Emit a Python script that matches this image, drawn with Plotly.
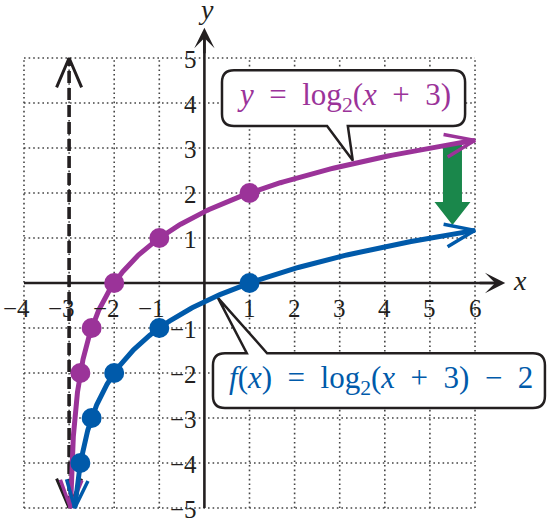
import numpy as np
import plotly.graph_objects as go

# ---------------- data ----------------
X_TICKS = [-4, -3, -2, -1, 1, 2, 3, 4, 5, 6]
Y_TICKS = [-5, -4, -3, -2, -1, 1, 2, 3, 4, 5]
GRID_X = list(range(-4, 7))
GRID_Y = list(range(-5, 6))

PARENT_X = [-2.75, -2.5, -2, -1, 1]
PARENT_Y = [-2, -1, 0, 1, 2]
SHIFTED_X = [-2.75, -2.5, -2, -1, 1]
SHIFTED_Y = [-4, -3, -2, -1, 0]

H_SHIFT = 3          # y = log2(x + 3)
V_SHIFT = -2         # f(x) = log2(x + 3) - 2
ASYMPTOTE_X = -3
CURVE_X_MAX = 6
CURVE_Y_MIN = -5
SHIFT_ARROW_X = 5.5

SP = "\u2002"
PARENT_LABEL = f"<i>y</i>{SP}={SP}log<sub>2</sub>(<i>x</i>{SP}+{SP}3)"
SHIFTED_LABEL = f"<i>f</i>(<i>x</i>){SP}={SP}log<sub>2</sub>(<i>x</i>{SP}+{SP}3){SP}−{SP}2"

# ---------------- style ----------------
W, H = 547, 519
XR = [-4.532, 7.596]
YR = [-5.244, 6.289]
SX = W / (XR[1] - XR[0])
SY = H / (YR[1] - YR[0])

PURPLE = "#9B3399"
BLUE = "#005AAA"
GREEN = "#1A874B"
BLACK = "#231F20"
SERIF = "Liberation Serif"


def f_parent(x):
    return np.log2(np.asarray(x, dtype=float) + H_SHIFT)


def open_head(tip, prev, color, length=30, angle=22, width=3.5):
    """Open V arrowhead at tip, direction from prev to tip (pixel-corrected)."""
    dx = (tip[0] - prev[0]) * SX
    dy = (tip[1] - prev[1]) * SY
    n = np.hypot(dx, dy)
    ux, uy = dx / n, dy / n
    pts_x, pts_y = [], []
    for s in (1, -1):
        a = np.radians(angle) * s
        bx = -(ux * np.cos(a) - uy * np.sin(a))
        by = -(ux * np.sin(a) + uy * np.cos(a))
        pts_x.append(tip[0] + bx * length / SX)
        pts_y.append(tip[1] + by * length / SY)
    return go.Scatter(x=[pts_x[0], tip[0], pts_x[1]], y=[pts_y[0], tip[1], pts_y[1]],
                      mode="lines", line=dict(color=color, width=width),
                      hoverinfo="skip", showlegend=False)


fig = go.Figure()

# grid
shapes = []
grid_line = dict(color="#444444", width=1.6, dash="1.6px,3px")
for gx in GRID_X:
    if gx == 0:
        continue
    shapes.append(dict(type="line", x0=gx, x1=gx, y0=GRID_Y[0], y1=GRID_Y[-1],
                       line=grid_line, layer="below"))
for gy in GRID_Y:
    if gy == 0:
        continue
    shapes.append(dict(type="line", x0=GRID_X[0], x1=GRID_X[-1], y0=gy, y1=gy,
                       line=grid_line, layer="below"))


def rounded_box(x1, x2, yb, yt, tail, r=12):
    rx, ry = r / SX, r / SY
    (b1, b2, tx, ty, side) = tail
    p = f"M{x1+rx},{yt} "
    if side == "top":
        p += f"L{b1},{yt} L{tx},{ty} L{b2},{yt} "
    p += f"L{x2-rx},{yt} Q{x2},{yt} {x2},{yt-ry} L{x2},{yb+ry} Q{x2},{yb} {x2-rx},{yb} "
    if side == "bottom":
        p += f"L{b2},{yb} L{tx},{ty} L{b1},{yb} "
    p += f"L{x1+rx},{yb} Q{x1},{yb} {x1},{yb+ry} L{x1},{yt-ry} Q{x1},{yt} {x1+rx},{yt} Z"
    return dict(type="path", path=p, fillcolor="white",
                line=dict(color=BLACK, width=2.5), layer="below")


# callout boxes
BOX1 = (0.39, 5.78, 3.49, 4.73)
TAIL1 = (2.72, 3.18, 3.29, 2.72, "bottom")
BOX2 = (0.19, 7.55, -2.78, -1.56)
TAIL2 = (0.94, 1.39, 0.30, -0.33, "top")
shapes.append(rounded_box(*BOX1, TAIL1))
shapes.append(rounded_box(*BOX2, TAIL2))

# axes lines as traces (below curves)
X_AXIS_END = 6.67
Y_AXIS_END = 5.67
fig.add_trace(go.Scatter(x=[GRID_X[0], X_AXIS_END - 0.2], y=[0, 0], mode="lines",
                         line=dict(color=BLACK, width=2.6), hoverinfo="skip", showlegend=False))
fig.add_trace(go.Scatter(x=[0, 0], y=[GRID_Y[0], Y_AXIS_END - 0.2], mode="lines",
                         line=dict(color=BLACK, width=2.6), hoverinfo="skip", showlegend=False))

# asymptote
fig.add_trace(go.Scatter(x=[ASYMPTOTE_X, ASYMPTOTE_X], y=[CURVE_Y_MIN, GRID_Y[-1]], mode="lines",
                         line=dict(color=BLACK, width=3.6, dash="12px,5px"),
                         hoverinfo="skip", showlegend=False))
fig.add_trace(open_head((ASYMPTOTE_X, GRID_Y[-1]), (ASYMPTOTE_X, 0), BLACK, length=32, angle=23, width=3))
fig.add_trace(open_head((ASYMPTOTE_X, CURVE_Y_MIN), (ASYMPTOTE_X, 0), BLACK, length=32, angle=23, width=3))

# green shift arrow
top_y = float(f_parent(SHIFT_ARROW_X))
tip_y = float(f_parent(SHIFT_ARROW_X)) + V_SHIFT + 0.2
hw_s, hw_h = 9.5 / SX, 18 / SX
head_base = tip_y + 23 / SY
gx = SHIFT_ARROW_X
fig.add_trace(go.Scatter(
    x=[gx - hw_s, gx + hw_s, gx + hw_s, gx + hw_h, gx, gx - hw_h, gx - hw_s, gx - hw_s],
    y=[top_y, top_y, head_base, head_base, tip_y, head_base, head_base, top_y],
    mode="lines", fill="toself", fillcolor=GREEN, line=dict(color=GREEN, width=0),
    hoverinfo="skip", showlegend=False))

# curves
for shift, color, px_, py_ in ((0, PURPLE, PARENT_X, PARENT_Y), (V_SHIFT, BLUE, SHIFTED_X, SHIFTED_Y)):
    y_end = float(f_parent(CURVE_X_MAX)) + shift
    ys = np.linspace(CURVE_Y_MIN, y_end, 400)
    xs = 2 ** (ys - shift) - H_SHIFT
    fig.add_trace(go.Scatter(x=xs, y=ys, mode="lines", line=dict(color=color, width=5),
                             hoverinfo="skip", showlegend=False))
    fig.add_trace(open_head((xs[-1], ys[-1]), (xs[-20], ys[-20]), color, length=32, angle=21, width=3.5))
    fig.add_trace(open_head((xs[0], ys[0]), (xs[8], ys[8]), color, length=30, angle=21, width=3.5))
    fig.add_trace(go.Scatter(x=px_, y=py_, mode="markers",
                             marker=dict(color=color, size=20, line=dict(width=0)),
                             hoverinfo="skip", showlegend=False))

annotations = []
# axis arrowheads
annotations.append(dict(x=X_AXIS_END, y=0, ax=X_AXIS_END - 0.6, ay=0, xref="x", yref="y",
                        axref="x", ayref="y", text="", showarrow=True, arrowhead=3,
                        arrowsize=1.3, arrowwidth=2.6, arrowcolor=BLACK))
annotations.append(dict(x=0, y=Y_AXIS_END, ax=0, ay=Y_AXIS_END - 0.6, xref="x", yref="y",
                        axref="x", ayref="y", text="", showarrow=True, arrowhead=3,
                        arrowsize=1.3, arrowwidth=2.6, arrowcolor=BLACK))
annotations.append(dict(x=7.0, y=0.05, text="<i>x</i>", showarrow=False,
                        font=dict(family=SERIF, size=28, color=BLACK)))
annotations.append(dict(x=0.04, y=6.07, text="<i>y</i>", showarrow=False,
                        font=dict(family=SERIF, size=28, color=BLACK)))

tick_font = dict(family=SERIF, size=25, color=BLACK)
for t in X_TICKS:
    if t < 0:
        annotations.append(dict(x=t + 0.17, y=-0.56, text=f"−{abs(t)}", showarrow=False,
                                xanchor="right", font=tick_font))
    else:
        annotations.append(dict(x=t, y=-0.56, text=str(t), showarrow=False, font=tick_font))
for t in Y_TICKS:
    lab = f"−{abs(t)}" if t < 0 else str(t)
    annotations.append(dict(x=-0.11, y=t - 0.03, text=lab, showarrow=False, xanchor="right",
                            font=tick_font))

annotations.append(dict(x=(BOX1[0] + BOX1[1]) / 2, y=(BOX1[2] + BOX1[3]) / 2 + 0.02,
                        text=PARENT_LABEL, showarrow=False,
                        font=dict(family=SERIF, size=31, color=PURPLE)))
annotations.append(dict(x=(BOX2[0] + BOX2[1]) / 2 + 0.05, y=(BOX2[2] + BOX2[3]) / 2 + 0.02,
                        text=SHIFTED_LABEL, showarrow=False,
                        font=dict(family=SERIF, size=31, color=BLUE)))

fig.update_layout(
    width=W, height=H, margin=dict(l=0, r=0, t=0, b=0),
    paper_bgcolor="white", plot_bgcolor="white",
    xaxis=dict(range=XR, visible=False, fixedrange=True),
    yaxis=dict(range=YR, visible=False, fixedrange=True),
    shapes=shapes, annotations=annotations, showlegend=False,
    font=dict(family=SERIF),
)

fig.write_html("out.html", config={"displayModeBar": False, "staticPlot": True},
               post_script="document.body.style.margin='0';document.body.style.padding='0';"
                           "document.documentElement.style.overflow='hidden';")
